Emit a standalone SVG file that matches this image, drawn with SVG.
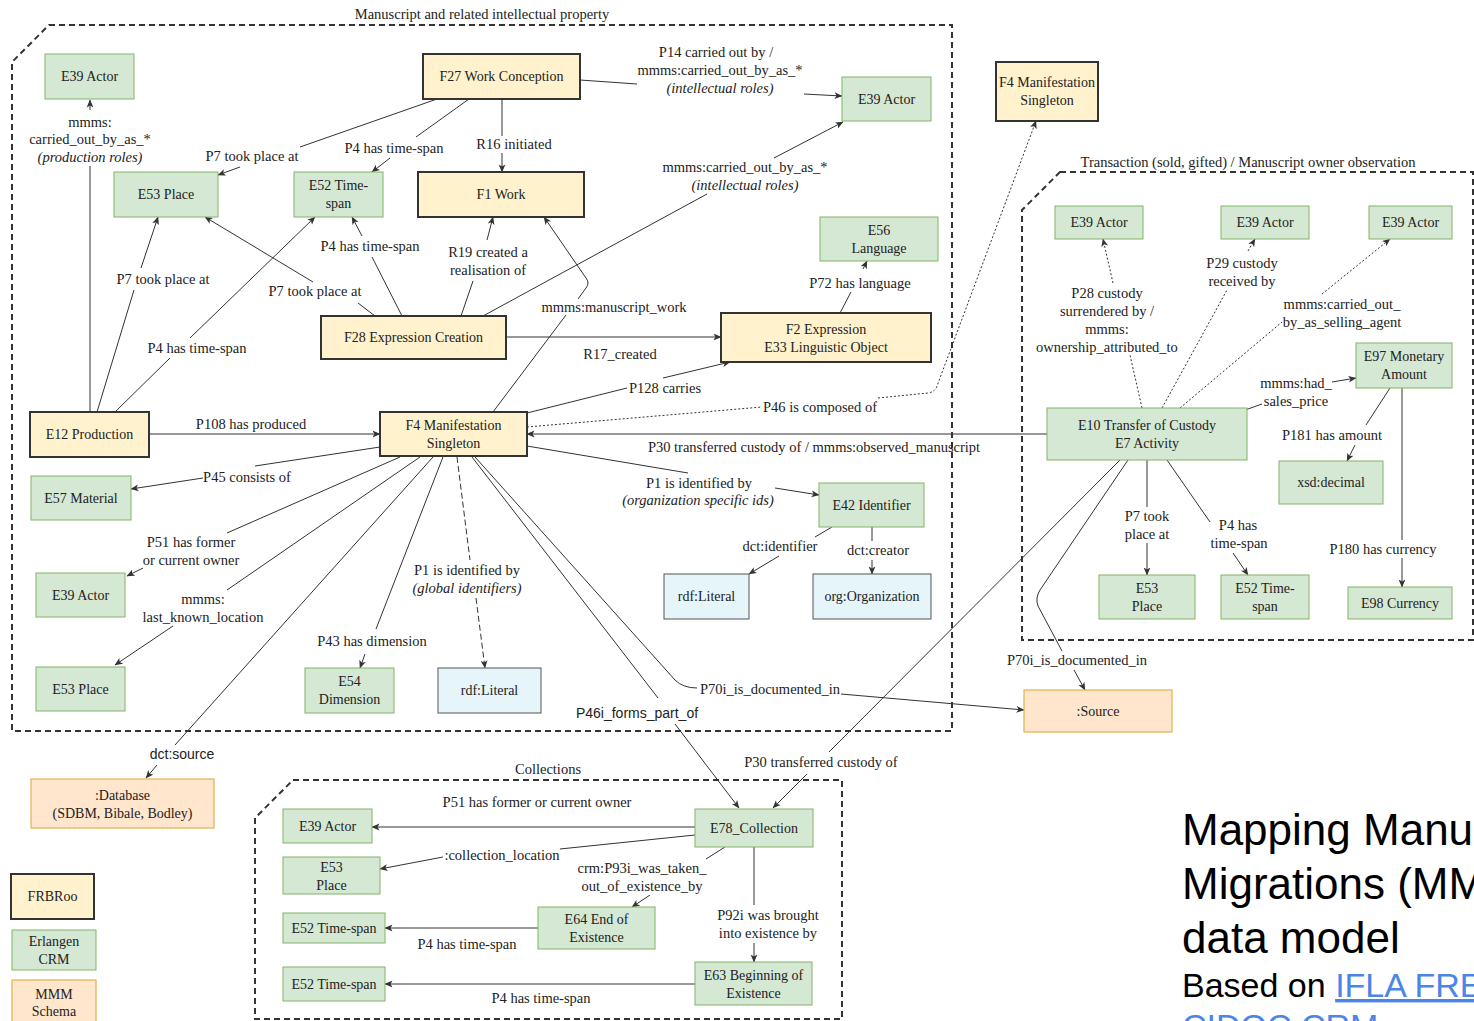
<svg xmlns="http://www.w3.org/2000/svg" width="1474" height="1021" viewBox="0 0 1474 1021">
<style>
  .bg{fill:#fff}
  .grp{fill:none;stroke:#333;stroke-width:2;stroke-dasharray:6 4}
  .gt{font-family:"Liberation Serif",serif;font-size:14.5px;fill:#222;text-anchor:middle}
  .g rect{fill:#d5e8d4;stroke:#82b366;stroke-width:1}
  .f rect{fill:#fff2cc;stroke:#333;stroke-width:2}
  .m rect{fill:#ffe6cc;stroke:#e2b24c;stroke-width:1.2}
  .l rect{fill:#e5f5f9;stroke:#555;stroke-width:1}
  .n text{font-family:"Liberation Serif",serif;font-size:14px;fill:#222;text-anchor:middle;dominant-baseline:central}
  .e{fill:none;stroke:#333;stroke-width:1}
  .dot{stroke-dasharray:2 2}
  .dash{stroke-dasharray:6 3}
  .lb{font-family:"Liberation Serif",serif;font-size:14.5px;fill:#222;text-anchor:middle;dominant-baseline:central}
  .it{font-style:italic}
  .sans{font-family:"Liberation Sans",Arial,sans-serif;font-size:14px}
  .title{font-family:"Liberation Sans",Arial,sans-serif;fill:#000}
  .link{fill:#4a86e8;text-decoration:underline}
</style>
<defs>
  <marker id="a" viewBox="0 0 8 8" refX="7.5" refY="4" markerWidth="8" markerHeight="8" markerUnits="userSpaceOnUse" orient="auto">
    <path d="M0,0.6 L8,4 L0,7.4 L2,4 Z" fill="#333"/>
  </marker>
</defs>
<rect class="bg" x="0" y="0" width="1474" height="1021"/>

<g id="groups">
  <g id="grp-manuscript">
    <path class="grp" d="M49,25 L952,25 L952,731 L12,731 L12,62 Z"/>
    <text class="gt" x="482" y="19">Manuscript and related intellectual property</text>
  </g>
  <g id="grp-transaction">
    <path class="grp" d="M1060,172 L1473,172 L1473,640 L1022,640 L1022,210 Z"/>
    <text class="gt" x="1248" y="167">Transaction (sold, gifted) / Manuscript owner observation</text>
  </g>
  <g id="grp-collections">
    <path class="grp" d="M293,780 L842,780 L842,1019 L255,1019 L255,818 Z"/>
    <text class="gt" x="548" y="774">Collections</text>
  </g>
</g>

<g id="connectors">
  <g><path class="e" marker-end="url(#a)" d="M90,412 L90,166 M90,110 L90,100"/>
    <text class="lb" x="90" y="122">mmms:</text><text class="lb" x="90" y="139">carried_out_by_as_*</text><text class="lb it" x="90" y="157">(production roles)</text></g>
  <g><path class="e" marker-end="url(#a)" d="M437,99 L300,147 M240,167 L218,175"/><text class="lb" x="252" y="156">P7 took place at</text></g>
  <g><path class="e" marker-end="url(#a)" d="M469,99 L416,137 M390,158 L372,172"/><text class="lb" x="394" y="148">P4 has time-span</text></g>
  <g><path class="e" marker-end="url(#a)" d="M502,99 L502,136 M502,153 L502,172"/><text class="lb" x="514" y="144">R16 initiated</text></g>
  <g><path class="e" marker-end="url(#a)" d="M580,80 L637,84 M804,94 L842,96"/>
    <text class="lb" x="716" y="52">P14 carried out by /</text><text class="lb" x="720" y="70">mmms:carried_out_by_as_*</text><text class="lb it" x="720" y="88">(intellectual roles)</text></g>
  <g><path class="e" marker-end="url(#a)" d="M483,316 L707,194 M774,158 L843,122"/>
    <text class="lb" x="745" y="167">mmms:carried_out_by_as_*</text><text class="lb it" x="745" y="185">(intellectual roles)</text></g>
  <g><path class="e" marker-end="url(#a)" d="M375,316 L358,303 M313,282 L205,217"/><text class="lb" x="315" y="291">P7 took place at</text></g>
  <g><path class="e" marker-end="url(#a)" d="M402,316 L372,257 M362,236 L352,217"/><text class="lb" x="370" y="246">P4 has time-span</text></g>
  <g><path class="e" marker-end="url(#a)" d="M461,316 L473,281 M487,240 L493,217"/>
    <text class="lb" x="488" y="252">R19 created a</text><text class="lb" x="488" y="270">realisation of</text></g>
  <g><path class="e" marker-end="url(#a)" d="M506,337 L721,337"/><text class="lb" x="620" y="354">R17_created</text></g>
  <g><path class="e" marker-end="url(#a)" d="M840,313 L851,292 M863,269 L867,261"/><text class="lb" x="860" y="283">P72 has language</text></g>
  <g><path class="e" marker-end="url(#a)" d="M97,412 L134,290 M141,268 L158,217"/><text class="lb" x="163" y="279">P7 took place at</text></g>
  <g><path class="e" marker-end="url(#a)" d="M115,412 L170,358 M190,338 L315,217"/><text class="lb" x="197" y="348">P4 has time-span</text></g>
  <g><path class="e" marker-end="url(#a)" d="M149,434 L380,434"/><text class="lb" x="251" y="424">P108 has produced</text></g>
  <g><path class="e" marker-end="url(#a)" d="M380,447 L255,466 M203,478 L131,489"/><text class="lb" x="247" y="477">P45 consists of</text></g>
  <g><path class="e" marker-end="url(#a)" d="M400,457 L227,533 M143,568 L127,576"/>
    <text class="lb" x="191" y="542">P51 has former</text><text class="lb" x="191" y="560">or current owner</text></g>
  <g><path class="e" marker-end="url(#a)" d="M420,457 L227,590 M173,626 L115,665"/>
    <text class="lb" x="203" y="599">mmms:</text><text class="lb" x="203" y="617">last_known_location</text></g>
  <g><path class="e" marker-end="url(#a)" d="M433,457 L175,745 M157,765 L146,778"/><text class="lb sans" x="182" y="754">dct:source</text></g>
  <g><path class="e" marker-end="url(#a)" d="M443,457 L376,629 M365,654 L360,668"/><text class="lb" x="372" y="641">P43 has dimension</text></g>
  <g><path class="e dash" marker-end="url(#a)" d="M457,457 L470,560 M476,598 L485,668"/>
    <text class="lb" x="467" y="570">P1 is identified by</text><text class="lb it" x="467" y="588">(global identifiers)</text></g>
  <g><path class="e" marker-end="url(#a)" d="M472,457 L658,698 M675,724 L739,808"/><text class="lb sans" x="637" y="713">P46i_forms_part_of</text></g>
  <g><path class="e" marker-end="url(#a)" d="M475,457 L675,680 Q683,688 697,688 M841,694 L1024,710"/><text class="lb" x="770" y="689">P70i_is_documented_in</text></g>
  <g><path class="e" marker-end="url(#a)" d="M493,412 L566,315 M578,299 L586,288 Q590,283 586,278 L544,217"/><text class="lb" x="614" y="307">mmms:manuscript_work</text></g>
  <g><path class="e" marker-end="url(#a)" d="M527,413 L627,388 M663,378 L730,362"/><text class="lb" x="665" y="388">P128 carries</text></g>
  <g><path class="e dot" marker-end="url(#a)" d="M527,427 L762,407 M878,398 L928,393 Q935,392 937,386 L1036,121"/><text class="lb" x="820" y="407">P46 is composed of</text></g>
  <g><path class="e" marker-end="url(#a)" d="M1047,434 L527,434"/><text class="lb" x="814" y="447">P30 transferred custody of / mmms:observed_manuscript</text></g>
  <g><path class="e" marker-end="url(#a)" d="M527,446 L688,473 M775,488 L819,495"/>
    <text class="lb" x="699" y="483">P1 is identified by</text><text class="lb it" x="698" y="500">(organization specific ids)</text></g>
  <g><path class="e" marker-end="url(#a)" d="M832,527 L815,537 M779,556 L749,574"/><text class="lb" x="780" y="546">dct:identifier</text></g>
  <g><path class="e" marker-end="url(#a)" d="M872,527 L872,541 M872,560 L872,574"/><text class="lb" x="878" y="550">dct:creator</text></g>
  <g><path class="e dot" marker-end="url(#a)" d="M1142,408 L1130,355 M1113,283 L1103,239"/>
    <text class="lb" x="1107" y="293">P28 custody</text><text class="lb" x="1107" y="311">surrendered by /</text><text class="lb" x="1107" y="329">mmms:</text><text class="lb" x="1107" y="347">ownership_attributed_to</text></g>
  <g><path class="e dot" marker-end="url(#a)" d="M1162,408 L1227,290 M1248,251 L1255,239"/>
    <text class="lb" x="1242" y="263">P29 custody</text><text class="lb" x="1242" y="281">received by</text></g>
  <g><path class="e dot" marker-end="url(#a)" d="M1180,408 L1282,322 M1322,294 L1390,239"/>
    <text class="lb" x="1342" y="304">mmms:carried_out_</text><text class="lb" x="1342" y="322">by_as_selling_agent</text></g>
  <g><path class="e" marker-end="url(#a)" d="M1245,410 L1262,404 M1332,382 L1356,378"/>
    <text class="lb" x="1296" y="383">mmms:had_</text><text class="lb" x="1296" y="401">sales_price</text></g>
  <g><path class="e" marker-end="url(#a)" d="M1390,388 L1366,425 M1355,445 L1347,461"/><text class="lb" x="1332" y="435">P181 has amount</text></g>
  <g><path class="e" marker-end="url(#a)" d="M1402,388 L1402,540 M1402,558 L1402,587"/><text class="lb" x="1383" y="549">P180 has currency</text></g>
  <g><path class="e" marker-end="url(#a)" d="M1147,460 L1147,507 M1147,543 L1147,575"/>
    <text class="lb" x="1147" y="516">P7 took</text><text class="lb" x="1147" y="534">place at</text></g>
  <g><path class="e" marker-end="url(#a)" d="M1167,460 L1210,522 M1233,553 L1248,575"/>
    <text class="lb" x="1238" y="525">P4 has</text><text class="lb" x="1239" y="543">time-span</text></g>
  <g><path class="e" marker-end="url(#a)" d="M1128,460 L1040,590 Q1035,598 1038,606 L1062,651 M1074,670 L1085,690"/><text class="lb" x="1077" y="660">P70i_is_documented_in</text></g>
  <g><path class="e" marker-end="url(#a)" d="M1120,460 L829,752 M807,774 L773,808"/><text class="lb" x="821" y="762">P30 transferred custody of</text></g>
  <g><path class="e" marker-end="url(#a)" d="M695,827 L372,827"/><text class="lb" x="537" y="802">P51 has former or current owner</text></g>
  <g><path class="e" marker-end="url(#a)" d="M695,835 L560,849 M443,857 L380,869"/><text class="lb" x="502" y="855">:collection_location</text></g>
  <g><path class="e" marker-end="url(#a)" d="M725,847 L706,859 M650,895 L632,907"/>
    <text class="lb" x="642" y="868">crm:P93i_was_taken_</text><text class="lb" x="642" y="886">out_of_existence_by</text></g>
  <g><path class="e" marker-end="url(#a)" d="M754,847 L754,905 M754,943 L754,962"/>
    <text class="lb" x="768" y="915">P92i was brought</text><text class="lb" x="768" y="933">into existence by</text></g>
  <g><path class="e" marker-end="url(#a)" d="M538,928 L385,928"/><text class="lb" x="467" y="944">P4 has time-span</text></g>
  <g><path class="e" marker-end="url(#a)" d="M695,984 L385,984"/><text class="lb" x="541" y="998">P4 has time-span</text></g>
</g>

<g id="nodes">
  <g id="n-e39-prod" class="n g"><rect x="45" y="54" width="89" height="45"/><text x="89.5" y="76.5">E39 Actor</text></g>
  <g id="n-f27" class="n f"><rect x="423" y="54" width="157" height="45"/><text x="501.5" y="76.5">F27 Work Conception</text></g>
  <g id="n-e39-int" class="n g"><rect x="842" y="77" width="89" height="44"/><text x="886.5" y="99">E39 Actor</text></g>
  <g id="n-f4-top" class="n f"><rect x="996" y="62" width="102" height="59"/><text x="1047" y="82.5">F4 Manifestation</text><text x="1047" y="100.5">Singleton</text></g>
  <g id="n-e53-a" class="n g"><rect x="114" y="172" width="104" height="45"/><text x="166" y="194.5">E53 Place</text></g>
  <g id="n-e52-a" class="n g"><rect x="294" y="172" width="89" height="45"/><text x="338.5" y="185.5">E52 Time-</text><text x="338.5" y="203.5">span</text></g>
  <g id="n-f1" class="n f"><rect x="418" y="172" width="166" height="45"/><text x="501" y="194.5">F1 Work</text></g>
  <g id="n-e56" class="n g"><rect x="820" y="217" width="118" height="44"/><text x="879" y="230">E56</text><text x="879" y="248">Language</text></g>
  <g id="n-f28" class="n f"><rect x="321" y="316" width="185" height="43"/><text x="413.5" y="337.5">F28 Expression Creation</text></g>
  <g id="n-f2" class="n f"><rect x="721" y="313" width="210" height="49"/><text x="826" y="329">F2 Expression</text><text x="826" y="347">E33 Linguistic Object</text></g>
  <g id="n-e12" class="n f"><rect x="30" y="412" width="119" height="45"/><text x="89.5" y="434.5">E12 Production</text></g>
  <g id="n-f4" class="n f"><rect x="380" y="412" width="147" height="44"/><text x="453.5" y="425">F4 Manifestation</text><text x="453.5" y="443">Singleton</text></g>
  <g id="n-e57" class="n g"><rect x="31" y="476" width="100" height="44"/><text x="81" y="498">E57 Material</text></g>
  <g id="n-e42" class="n g"><rect x="819" y="483" width="105" height="44"/><text x="871.5" y="505">E42 Identifier</text></g>
  <g id="n-e39-owner" class="n g"><rect x="36" y="573" width="89" height="44"/><text x="80.5" y="595">E39 Actor</text></g>
  <g id="n-lit-1" class="n l"><rect x="664" y="574" width="85" height="45"/><text x="706.5" y="596.5">rdf:Literal</text></g>
  <g id="n-org" class="n l"><rect x="813" y="574" width="118" height="45"/><text x="872" y="596.5">org:Organization</text></g>
  <g id="n-e53-b" class="n g"><rect x="36" y="667" width="89" height="44"/><text x="80.5" y="689">E53 Place</text></g>
  <g id="n-e54" class="n g"><rect x="305" y="668" width="89" height="45"/><text x="349.5" y="681.5">E54</text><text x="349.5" y="699.5">Dimension</text></g>
  <g id="n-lit-2" class="n l"><rect x="438" y="668" width="103" height="45"/><text x="489.5" y="690.5">rdf:Literal</text></g>

  <g id="n-e39-surr" class="n g"><rect x="1055" y="206" width="88" height="33"/><text x="1099" y="222.5">E39 Actor</text></g>
  <g id="n-e39-recv" class="n g"><rect x="1221" y="206" width="88" height="33"/><text x="1265" y="222.5">E39 Actor</text></g>
  <g id="n-e39-sell" class="n g"><rect x="1369" y="206" width="83" height="33"/><text x="1410.5" y="222.5">E39 Actor</text></g>
  <g id="n-e97" class="n g"><rect x="1356" y="343" width="96" height="45"/><text x="1404" y="356.5">E97 Monetary</text><text x="1404" y="374.5">Amount</text></g>
  <g id="n-e10" class="n g"><rect x="1047" y="408" width="200" height="52"/><text x="1147" y="425">E10 Transfer of Custody</text><text x="1147" y="443">E7 Activity</text></g>
  <g id="n-xsd" class="n g"><rect x="1279" y="461" width="104" height="43"/><text x="1331" y="482.5">xsd:decimal</text></g>
  <g id="n-e53-c" class="n g"><rect x="1099" y="575" width="96" height="44"/><text x="1147" y="588">E53</text><text x="1147" y="606">Place</text></g>
  <g id="n-e52-c" class="n g"><rect x="1221" y="575" width="88" height="44"/><text x="1265" y="588">E52 Time-</text><text x="1265" y="606">span</text></g>
  <g id="n-e98" class="n g"><rect x="1348" y="587" width="104" height="32"/><text x="1400" y="603">E98 Currency</text></g>

  <g id="n-source" class="n m"><rect x="1024" y="690" width="148" height="42"/><text x="1098" y="711">:Source</text></g>
  <g id="n-database" class="n m"><rect x="31" y="779" width="183" height="49"/><text x="122.5" y="795">:Database</text><text x="122.5" y="813">(SDBM, Bibale, Bodley)</text></g>

  <g id="n-c-e39" class="n g"><rect x="283" y="809" width="89" height="34"/><text x="327.5" y="826">E39 Actor</text></g>
  <g id="n-c-e53" class="n g"><rect x="283" y="857" width="97" height="37"/><text x="331.5" y="867">E53</text><text x="331.5" y="885">Place</text></g>
  <g id="n-c-e52-a" class="n g"><rect x="283" y="913" width="102" height="30"/><text x="334" y="928">E52 Time-span</text></g>
  <g id="n-c-e52-b" class="n g"><rect x="283" y="967" width="102" height="34"/><text x="334" y="984">E52 Time-span</text></g>
  <g id="n-e64" class="n g"><rect x="538" y="907" width="117" height="42"/><text x="596.5" y="919">E64 End of</text><text x="596.5" y="937">Existence</text></g>
  <g id="n-e78" class="n g"><rect x="695" y="809" width="118" height="38"/><text x="754" y="828">E78_Collection</text></g>
  <g id="n-e63" class="n g"><rect x="695" y="962" width="117" height="43"/><text x="753.5" y="975">E63 Beginning of</text><text x="753.5" y="993">Existence</text></g>

  <g id="legend-frbroo" class="n f"><rect x="11" y="874" width="83" height="45"/><text x="52.5" y="896.5">FRBRoo</text></g>
  <g id="legend-crm" class="n g"><rect x="12" y="930" width="84" height="40"/><text x="54" y="941">Erlangen</text><text x="54" y="959">CRM</text></g>
  <g id="legend-mmm" class="n m"><rect x="12" y="980" width="84" height="48"/><text x="54" y="994">MMM</text><text x="54" y="1011">Schema</text></g>
</g>

<g id="title">
  <text class="title" x="1182" y="845" font-size="44">Mapping Manu</text>
  <text class="title" x="1182" y="899" font-size="44">Migrations (MM</text>
  <text class="title" x="1182" y="953" font-size="44">data model</text>
  <text class="title" x="1182" y="997" font-size="34">Based on <tspan class="link">IFLA FRE</tspan></text>
  <text class="title link" x="1182" y="1038" font-size="34">CIDOC CRM</text>
</g>
</svg>
